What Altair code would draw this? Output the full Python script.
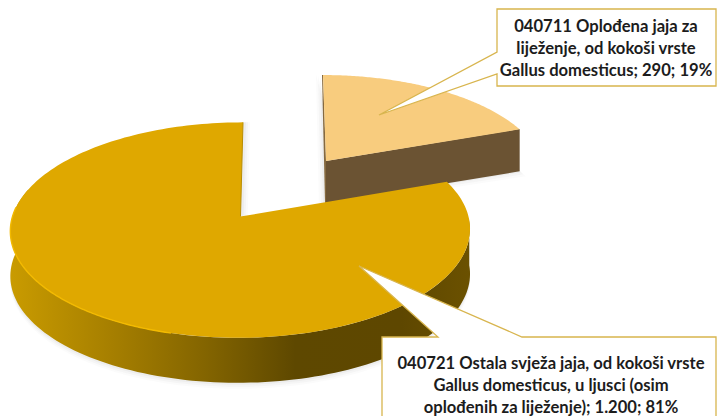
import math
import altair as alt

codes = ["040721", "040711"]
values = [1200, 290]
label_big = ["040721 Ostala svježa jaja, od kokoši vrste",
             "Gallus domesticus, u ljusci (osim",
             "oplođenih za liježenje); 1.200; 81%"]
label_small = ["040711 Oplođena jaja za",
               "liježenje, od kokoši vrste",
               "Gallus domesticus; 290; 19%"]

total = sum(values)
small_sweep = 360.0 * values[1] / total


def make_proj(cx, cy, A, B, k, shear):
    def p(theta, r=1.0, dy=0.0, dx=0.0):
        t = math.radians(theta)
        u, v = r * math.sin(t), r * math.cos(t)
        d = 1 + k * v
        return [cx + A * u / d + shear * v + dx, cy - B * v / d + dy]
    return p


big = make_proj(240.5, 216.5, 228, 106, 0.126, 2.5)
small = make_proj(326, 161, 216, 96.8, 0.126, -3)
big_depth = 45
small_depth = 42


def arc(p, a, b, n=120, **kw):
    return [p(a + (b - a) * i / n, **kw) for i in range(n + 1)]


def poly(pts):
    pts = pts + [pts[0]]
    return {"type": "Feature", "properties": {},
            "geometry": {"type": "Polygon", "coordinates": [pts]}}


def line(pts):
    return {"type": "Feature", "properties": {},
            "geometry": {"type": "LineString", "coordinates": pts}}


PROJ = dict(type="identity", scale=1, translate=[-8, -8])


def shape(feature, **mark):
    return (alt.Chart(alt.Data(values=[feature]))
            .mark_geoshape(**mark)
            .project(**PROJ))


def grad(stops):
    return alt.Gradient(gradient="linear", x1=0, x2=1, y1=0, y2=0,
                        stops=[alt.GradientStop(offset=o, color=c) for o, c in stops])


layers = []

# soft shadows
for off, op in [(7, .03), (5, .045), (3, .06)]:
    layers.append(shape(poly(arc(small, 0, small_sweep, dy=small_depth + off - 2, dx=off - 1)
                             + [small(0, 0, dy=small_depth + off - 2, dx=-off)]
                             + [small(0, 1, dx=-off)]),
                        fill="#7f7f7f", opacity=op, strokeWidth=0))
    layers.append(shape(poly([big(0, 0)] + arc(big, 60, 300, dy=big_depth + off - 1, n=200)),
                        fill="#7f7f7f", opacity=op, strokeWidth=0))
    layers.append(shape(poly([big(0, 1), big(0, 1, dx=off), big(0, 0, dx=off, dy=off), big(0, 0)]),
                        fill="#7f7f7f", opacity=op, strokeWidth=0))

# small wedge
layers.append(shape(poly(arc(small, small_sweep - 0.2, small_sweep, n=2)
                         + [small(small_sweep, dy=small_depth), small(small_sweep, 0, dy=small_depth),
                            small(0, 0, dy=small_depth), small(0, 0)]),
                    fill="#6B5333", strokeWidth=0))
layers.append(shape(poly([small(0, 1), small(0, 0), small(0, 0, dy=small_depth), small(0, 0, dy=small_depth, dx=-1), small(0, 1, dx=-1)]),
                    fill="#85693F", strokeWidth=0))
layers.append(shape(poly([small(0, 0)] + arc(small, 0, small_sweep)), fill="#F8CC7E", strokeWidth=0))

# main pie wall and top
wall_top = arc(big, 92, 285)
wall_bot = arc(big, 285, 92, dy=big_depth)
layers.append(shape(poly(wall_top + wall_bot),
                    fill=grad([(0, "#C99B00"), (0.22, "#A67F00"), (0.42, "#846500"),
                               (0.62, "#5E4800"), (0.85, "#5E4700"), (1, "#6B5100")]),
                    strokeWidth=0))
layers.append(shape(poly([big(0, 0)] + arc(big, small_sweep, 360, n=200)), fill="#DFA800", strokeWidth=0))
layers.append(shape(line(arc(big, 195, 275)), filled=False, stroke="#F3BA00", strokeWidth=1.4))
layers.append(shape(line([big(0, 1), big(0, 0)]), filled=False, stroke="#B98D00", strokeWidth=1))

# callouts
border = "#D8B54E"
layers.append(shape(poly([[497, 9], [716, 9], [716, 86], [497, 86], [497, 74], [379, 115], [497, 52]]),
                    fill="#FFFFFF", stroke=border, strokeWidth=1.3))
layers.append(shape(poly([[382, 337], [438, 337], [359, 266], [522, 337], [716, 337], [716, 430], [382, 430]]),
                    fill="#FFFFFF", stroke=border, strokeWidth=1.3))


def label(lines, x, y):
    return (alt.Chart(alt.Data(values=[{"t": "\n".join(lines)}]))
            .mark_text(font="Lato", fontWeight="bold", fontSize=16.6, color="#1C1C1C",
                       lineBreak="\n", lineHeight=22, align="center", baseline="middle")
            .encode(text="t:N", x=alt.value(x - 8), y=alt.value(y - 8)))


layers.append(label(label_small, 606, 27))
layers.append(label(label_big, 551, 364))

chart = (alt.layer(*layers)
         .properties(width=709, height=408, padding=0, background="white",
                     autosize=alt.AutoSizeParams(type="none"))
         .configure_view(strokeWidth=0, stroke=None))

chart.save("out.html", embed_options={"renderer": "svg", "actions": False})
